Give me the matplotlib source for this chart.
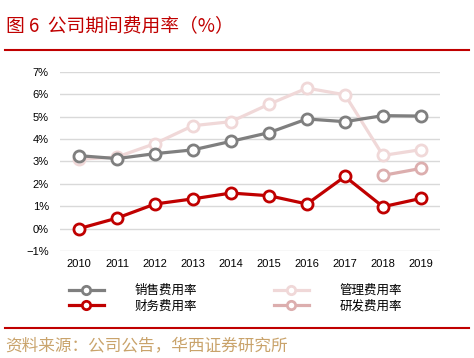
import matplotlib.pyplot as plt
from matplotlib.lines import Line2D

plt.rcParams['font.family'] = ['Liberation Sans', 'Noto Sans CJK SC', 'DejaVu Sans']

years = [2010, 2011, 2012, 2013, 2014, 2015, 2016, 2017, 2018, 2019]
sales = [3.26, 3.13, 3.35, 3.52, 3.90, 4.29, 4.90, 4.78, 5.05, 5.03]
admin = [3.10, 3.20, 3.80, 4.60, 4.78, 5.56, 6.28, 5.98, 3.27, 3.53]
finance = [0.00, 0.47, 1.10, 1.33, 1.59, 1.47, 1.10, 2.33, 0.98, 1.35]
rd_years = [2018, 2019]
rd = [2.38, 2.69]
yticks = [-1, 0, 1, 2, 3, 4, 5, 6, 7]

c_sales = '#7f7f7f'
c_fin = '#c00000'
c_admin = '#f0d8d8'
c_rd = '#dcaeae'

fig = plt.figure(figsize=(4.74, 3.58), dpi=100)
ax = fig.add_axes([0.1266, 0.2989, 0.8016, 0.5])

style = dict(lw=2.3, marker='o', ms=8, mfc='white', mew=2)
ax.plot(years, admin, color=c_admin, zorder=2, **style)
ax.plot(rd_years, rd, color=c_rd, zorder=2, **style)
ax.plot(years, sales, color=c_sales, zorder=3, **style)
ax.plot(years, finance, color=c_fin, zorder=4, **style)

ax.set_xlim(2009.5, 2019.5)
ax.set_ylim(-1, 7)
ax.set_yticks(yticks)
ax.set_yticklabels([('\u22121' if v < 0 else str(v)) + '%' for v in yticks])
ax.set_xticks(years)
ax.grid(axis='y', color='#d9d9d9', lw=1)
ax.set_axisbelow(True)
for s in ax.spines.values():
    s.set_visible(False)
ax.tick_params(length=0, labelsize=8, pad=6)
ax.tick_params(axis='y', pad=8)

handles = [Line2D([], [], color=c, lw=2.3, marker='o', ms=6, mfc='white', mew=2)
           for c in (c_sales, c_fin, c_admin, c_rd)]
labels = ['销售费用率', '财务费用率', '管理费用率', '研发费用率']
fig.legend(handles, labels, ncol=2, loc='center', bbox_to_anchor=(0.497, 0.167),
           frameon=False, handlelength=2.8, handletextpad=2.5,
           columnspacing=6.1, labelspacing=0.2,
           prop={'family': ['Noto Sans CJK SC'], 'size': 9})

fig.text(0.012, 0.91, '图 6  公司期间费用率（%）', color='#c00000', fontsize=13.5,
         family=['Noto Sans CJK SC'])
fig.add_artist(Line2D([0.01, 0.99], [0.86, 0.86], color='#c00000', lw=1.5))
fig.add_artist(Line2D([0.01, 0.99], [0.083, 0.083], color='#c00000', lw=1.5))
fig.text(0.012, 0.022, '资料来源：公司公告，华西证券研究所', color='#c9a36b', fontsize=12,
         family=['Noto Sans CJK SC'])

fig.savefig('out.png', dpi=100)
